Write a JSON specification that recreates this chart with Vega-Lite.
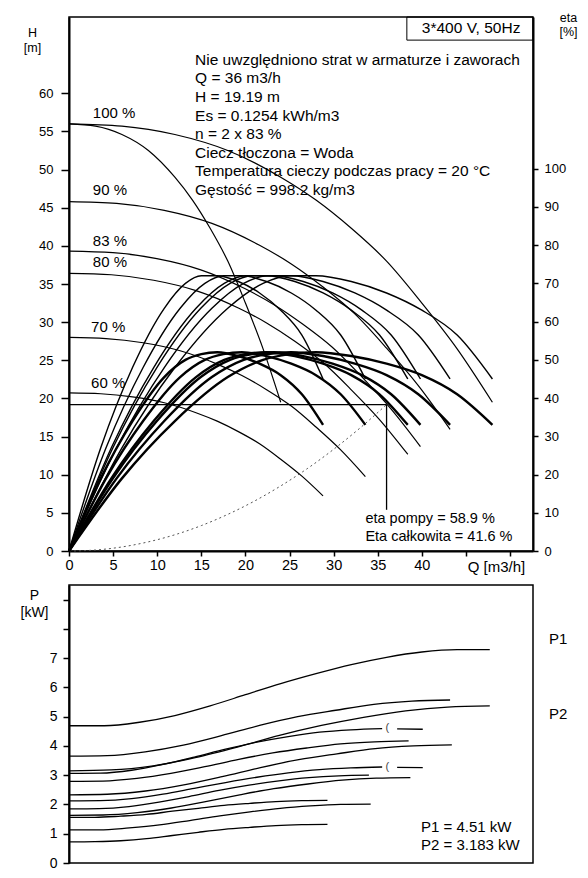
{
"$schema": "https://vega.github.io/schema/vega-lite/v6.json",
"padding": {"left": 19, "top": 10, "right": 2, "bottom": 2},
"spacing": 8,
"config": {
  "font": "Liberation Sans",
  "view": {"stroke": "#000", "strokeWidth": 1.5},
  "axis": {"grid": false, "domainColor": "#000", "domainWidth": 2, "tickColor": "#000", "tickWidth": 1.5, "labelColor": "#000", "titleColor": "#000", "labelFont": "Liberation Sans", "titleFont": "Liberation Sans", "titleFontWeight": "normal"},
  "text": {"font": "Liberation Sans", "color": "#000"}
},
"datasets": {
"hq": [
{"c":"a100","q":0,"h":56},{"c":"a100","q":6,"h":55.7},{"c":"a100","q":12,"h":54.6},{"c":"a100","q":18,"h":52.5},{"c":"a100","q":24,"h":49},{"c":"a100","q":28,"h":46},{"c":"a100","q":32,"h":42.3},{"c":"a100","q":36,"h":38},{"c":"a100","q":40,"h":32.5},{"c":"a100","q":44,"h":26.5},{"c":"a100","q":48,"h":19.5},
{"c":"a90","q":0,"h":45.81},{"c":"a90","q":5.4,"h":45.56},{"c":"a90","q":10.8,"h":44.66},{"c":"a90","q":16.2,"h":42.95},{"c":"a90","q":21.6,"h":40.08},{"c":"a90","q":25.2,"h":37.63},{"c":"a90","q":28.8,"h":34.6},{"c":"a90","q":32.4,"h":31.08},{"c":"a90","q":36,"h":26.59},{"c":"a90","q":39.6,"h":21.68},{"c":"a90","q":43.2,"h":15.95},
{"c":"a83","q":0,"h":39.31},{"c":"a83","q":4.98,"h":39.1},{"c":"a83","q":9.96,"h":38.33},{"c":"a83","q":14.94,"h":36.86},{"c":"a83","q":19.92,"h":34.4},{"c":"a83","q":23.24,"h":32.29},{"c":"a83","q":26.56,"h":29.69},{"c":"a83","q":29.88,"h":26.68},{"c":"a83","q":33.2,"h":22.82},{"c":"a83","q":36.52,"h":18.6},{"c":"a83","q":39.84,"h":13.69},
{"c":"a80","q":0,"h":36.4},{"c":"a80","q":4.8,"h":36.21},{"c":"a80","q":9.6,"h":35.49},{"c":"a80","q":14.4,"h":34.13},{"c":"a80","q":19.2,"h":31.85},{"c":"a80","q":22.4,"h":29.9},{"c":"a80","q":25.6,"h":27.5},{"c":"a80","q":28.8,"h":24.7},{"c":"a80","q":32,"h":21.13},{"c":"a80","q":35.2,"h":17.23},{"c":"a80","q":38.4,"h":12.68},
{"c":"a70","q":0,"h":28},{"c":"a70","q":4.2,"h":27.85},{"c":"a70","q":8.4,"h":27.3},{"c":"a70","q":12.6,"h":26.25},{"c":"a70","q":16.8,"h":24.5},{"c":"a70","q":19.6,"h":23},{"c":"a70","q":22.4,"h":21.15},{"c":"a70","q":25.2,"h":19},{"c":"a70","q":28,"h":16.25},{"c":"a70","q":30.8,"h":13.25},{"c":"a70","q":33.6,"h":9.75},
{"c":"a60","q":0,"h":20.72},{"c":"a60","q":3.6,"h":20.61},{"c":"a60","q":7.2,"h":20.2},{"c":"a60","q":10.8,"h":19.43},{"c":"a60","q":14.4,"h":18.13},{"c":"a60","q":16.8,"h":17.02},{"c":"a60","q":19.2,"h":15.65},{"c":"a60","q":21.6,"h":14.06},{"c":"a60","q":24,"h":12.03},{"c":"a60","q":26.4,"h":9.81},{"c":"a60","q":28.8,"h":7.22},
{"c":"s100","q":0,"h":56},{"c":"s100","q":3,"h":55.7},{"c":"s100","q":6,"h":54.6},{"c":"s100","q":9,"h":52.5},{"c":"s100","q":12,"h":49},{"c":"s100","q":14,"h":46},{"c":"s100","q":16,"h":42.3},{"c":"s100","q":18,"h":38},{"c":"s100","q":20,"h":32.5},{"c":"s100","q":22,"h":26.5},{"c":"s100","q":24,"h":19.5}
],
"sys": [
{"q":0,"h":0},{"q":3,"h":0.13},{"q":6,"h":0.53},{"q":9,"h":1.2},{"q":12,"h":2.13},{"q":15,"h":3.33},{"q":18,"h":4.8},{"q":21,"h":6.53},{"q":24,"h":8.53},{"q":27,"h":10.79},{"q":30,"h":13.33},{"q":33,"h":16.13},{"q":36,"h":19.19}
],
"eta": [
{"c":"p100","g":"p","q":0,"e":0},{"c":"p100","g":"p","q":6,"e":27},{"c":"p100","g":"p","q":12,"e":48},{"c":"p100","g":"p","q":18,"e":63.5},{"c":"p100","g":"p","q":22,"e":70},{"c":"p100","g":"p","q":25,"e":72},{"c":"p100","g":"p","q":28,"e":72},{"c":"p100","g":"p","q":32,"e":70.5},{"c":"p100","g":"p","q":36,"e":67.5},{"c":"p100","g":"p","q":40,"e":63},{"c":"p100","g":"p","q":44,"e":56.5},{"c":"p100","g":"p","q":48,"e":45},
{"c":"p90","g":"p","q":0,"e":0},{"c":"p90","g":"p","q":5.4,"e":27},{"c":"p90","g":"p","q":10.8,"e":48},{"c":"p90","g":"p","q":16.2,"e":63.5},{"c":"p90","g":"p","q":19.8,"e":70},{"c":"p90","g":"p","q":22.5,"e":72},{"c":"p90","g":"p","q":25.2,"e":72},{"c":"p90","g":"p","q":28.8,"e":70.5},{"c":"p90","g":"p","q":32.4,"e":67.5},{"c":"p90","g":"p","q":36,"e":63},{"c":"p90","g":"p","q":39.6,"e":56.5},{"c":"p90","g":"p","q":43.2,"e":45},
{"c":"p83","g":"p","q":0,"e":0},{"c":"p83","g":"p","q":4.98,"e":27},{"c":"p83","g":"p","q":9.96,"e":48},{"c":"p83","g":"p","q":14.94,"e":63.5},{"c":"p83","g":"p","q":18.26,"e":70},{"c":"p83","g":"p","q":20.75,"e":72},{"c":"p83","g":"p","q":23.24,"e":72},{"c":"p83","g":"p","q":26.56,"e":70.5},{"c":"p83","g":"p","q":29.88,"e":67.5},{"c":"p83","g":"p","q":33.2,"e":63},{"c":"p83","g":"p","q":36.52,"e":56.5},{"c":"p83","g":"p","q":39.84,"e":45},
{"c":"p80","g":"p","q":0,"e":0},{"c":"p80","g":"p","q":4.8,"e":27},{"c":"p80","g":"p","q":9.6,"e":48},{"c":"p80","g":"p","q":14.4,"e":63.5},{"c":"p80","g":"p","q":17.6,"e":70},{"c":"p80","g":"p","q":20,"e":72},{"c":"p80","g":"p","q":22.4,"e":72},{"c":"p80","g":"p","q":25.6,"e":70.5},{"c":"p80","g":"p","q":28.8,"e":67.5},{"c":"p80","g":"p","q":32,"e":63},{"c":"p80","g":"p","q":35.2,"e":56.5},{"c":"p80","g":"p","q":38.4,"e":45},
{"c":"p70","g":"p","q":0,"e":0},{"c":"p70","g":"p","q":4.2,"e":27},{"c":"p70","g":"p","q":8.4,"e":48},{"c":"p70","g":"p","q":12.6,"e":63.5},{"c":"p70","g":"p","q":15.4,"e":70},{"c":"p70","g":"p","q":17.5,"e":72},{"c":"p70","g":"p","q":19.6,"e":72},{"c":"p70","g":"p","q":22.4,"e":70.5},{"c":"p70","g":"p","q":25.2,"e":67.5},{"c":"p70","g":"p","q":28,"e":63},{"c":"p70","g":"p","q":30.8,"e":56.5},{"c":"p70","g":"p","q":33.6,"e":45},
{"c":"p60","g":"p","q":0,"e":0},{"c":"p60","g":"p","q":3.6,"e":27},{"c":"p60","g":"p","q":7.2,"e":48},{"c":"p60","g":"p","q":10.8,"e":63.5},{"c":"p60","g":"p","q":13.2,"e":70},{"c":"p60","g":"p","q":15,"e":72},{"c":"p60","g":"p","q":16.8,"e":72},{"c":"p60","g":"p","q":19.2,"e":70.5},{"c":"p60","g":"p","q":21.6,"e":67.5},{"c":"p60","g":"p","q":24,"e":63},{"c":"p60","g":"p","q":26.4,"e":56.5},{"c":"p60","g":"p","q":28.8,"e":45},
{"c":"t100","g":"t","q":0,"e":0},{"c":"t100","g":"t","q":6,"e":19},{"c":"t100","g":"t","q":12,"e":34},{"c":"t100","g":"t","q":18,"e":45.5},{"c":"t100","g":"t","q":22,"e":50},{"c":"t100","g":"t","q":25,"e":51.5},{"c":"t100","g":"t","q":28,"e":52},{"c":"t100","g":"t","q":32,"e":51},{"c":"t100","g":"t","q":36,"e":49},{"c":"t100","g":"t","q":40,"e":46},{"c":"t100","g":"t","q":44,"e":41},{"c":"t100","g":"t","q":48,"e":33},
{"c":"t90","g":"t","q":0,"e":0},{"c":"t90","g":"t","q":5.4,"e":19},{"c":"t90","g":"t","q":10.8,"e":34},{"c":"t90","g":"t","q":16.2,"e":45.5},{"c":"t90","g":"t","q":19.8,"e":50},{"c":"t90","g":"t","q":22.5,"e":51.5},{"c":"t90","g":"t","q":25.2,"e":52},{"c":"t90","g":"t","q":28.8,"e":51},{"c":"t90","g":"t","q":32.4,"e":49},{"c":"t90","g":"t","q":36,"e":46},{"c":"t90","g":"t","q":39.6,"e":41},{"c":"t90","g":"t","q":43.2,"e":33},
{"c":"t83","g":"t","q":0,"e":0},{"c":"t83","g":"t","q":4.98,"e":19},{"c":"t83","g":"t","q":9.96,"e":34},{"c":"t83","g":"t","q":14.94,"e":45.5},{"c":"t83","g":"t","q":18.26,"e":50},{"c":"t83","g":"t","q":20.75,"e":51.5},{"c":"t83","g":"t","q":23.24,"e":52},{"c":"t83","g":"t","q":26.56,"e":51},{"c":"t83","g":"t","q":29.88,"e":49},{"c":"t83","g":"t","q":33.2,"e":46},{"c":"t83","g":"t","q":36.52,"e":41},{"c":"t83","g":"t","q":39.84,"e":33},
{"c":"t80","g":"t","q":0,"e":0},{"c":"t80","g":"t","q":4.8,"e":19},{"c":"t80","g":"t","q":9.6,"e":34},{"c":"t80","g":"t","q":14.4,"e":45.5},{"c":"t80","g":"t","q":17.6,"e":50},{"c":"t80","g":"t","q":20,"e":51.5},{"c":"t80","g":"t","q":22.4,"e":52},{"c":"t80","g":"t","q":25.6,"e":51},{"c":"t80","g":"t","q":28.8,"e":49},{"c":"t80","g":"t","q":32,"e":46},{"c":"t80","g":"t","q":35.2,"e":41},{"c":"t80","g":"t","q":38.4,"e":33},
{"c":"t70","g":"t","q":0,"e":0},{"c":"t70","g":"t","q":4.2,"e":19},{"c":"t70","g":"t","q":8.4,"e":34},{"c":"t70","g":"t","q":12.6,"e":45.5},{"c":"t70","g":"t","q":15.4,"e":50},{"c":"t70","g":"t","q":17.5,"e":51.5},{"c":"t70","g":"t","q":19.6,"e":52},{"c":"t70","g":"t","q":22.4,"e":51},{"c":"t70","g":"t","q":25.2,"e":49},{"c":"t70","g":"t","q":28,"e":46},{"c":"t70","g":"t","q":30.8,"e":41},{"c":"t70","g":"t","q":33.6,"e":33},
{"c":"t60","g":"t","q":0,"e":0},{"c":"t60","g":"t","q":3.6,"e":19},{"c":"t60","g":"t","q":7.2,"e":34},{"c":"t60","g":"t","q":10.8,"e":45.5},{"c":"t60","g":"t","q":13.2,"e":50},{"c":"t60","g":"t","q":15,"e":51.5},{"c":"t60","g":"t","q":16.8,"e":52},{"c":"t60","g":"t","q":19.2,"e":51},{"c":"t60","g":"t","q":21.6,"e":49},{"c":"t60","g":"t","q":24,"e":46},{"c":"t60","g":"t","q":26.4,"e":41},{"c":"t60","g":"t","q":28.8,"e":33}
],
"pw": [
{"c":"c1","q":0,"p":4.69},{"c":"c1","q":4,"p":4.69},{"c":"c1","q":8,"p":4.81},{"c":"c1","q":12,"p":5.04},{"c":"c1","q":16,"p":5.37},{"c":"c1","q":20,"p":5.75},{"c":"c1","q":24,"p":6.13},{"c":"c1","q":28,"p":6.47},{"c":"c1","q":32,"p":6.78},{"c":"c1","q":36,"p":7.03},{"c":"c1","q":40,"p":7.21},{"c":"c1","q":44,"p":7.29},{"c":"c1","q":47.7,"p":7.29},
{"c":"c2","q":0,"p":3.65},{"c":"c2","q":4.32,"p":3.67},{"c":"c2","q":8.64,"p":3.8},{"c":"c2","q":12.96,"p":4.03},{"c":"c2","q":17.28,"p":4.35},{"c":"c2","q":21.6,"p":4.7},{"c":"c2","q":25.92,"p":5.0},{"c":"c2","q":30.24,"p":5.22},{"c":"c2","q":34.56,"p":5.42},{"c":"c2","q":38.88,"p":5.53},{"c":"c2","q":43.2,"p":5.57},
{"c":"c3","q":0,"p":3.15},{"c":"c3","q":4.77,"p":3.18},{"c":"c3","q":9.54,"p":3.32},{"c":"c3","q":14.31,"p":3.6},{"c":"c3","q":19.08,"p":3.96},{"c":"c3","q":23.85,"p":4.36},{"c":"c3","q":28.62,"p":4.7},{"c":"c3","q":33.39,"p":4.98},{"c":"c3","q":38.16,"p":5.2},{"c":"c3","q":42.93,"p":5.33},{"c":"c3","q":47.7,"p":5.37},
{"c":"c4","q":0,"p":3.06},{"c":"c4","q":3.55,"p":3.07},{"c":"c4","q":7.1,"p":3.17},{"c":"c4","q":10.65,"p":3.37},{"c":"c4","q":14.2,"p":3.62},{"c":"c4","q":17.75,"p":3.89},{"c":"c4","q":21.3,"p":4.13},{"c":"c4","q":24.85,"p":4.32},{"c":"c4","q":28.4,"p":4.47},{"c":"c4","q":31.95,"p":4.55},{"c":"c4","q":35.5,"p":4.59},
{"c":"c4t","q":37.2,"p":4.58},{"c":"c4t","q":40.1,"p":4.57},
{"c":"c5","q":0,"p":2.79},{"c":"c5","q":3.85,"p":2.8},{"c":"c5","q":7.7,"p":2.89},{"c":"c5","q":11.55,"p":3.06},{"c":"c5","q":15.4,"p":3.29},{"c":"c5","q":19.25,"p":3.54},{"c":"c5","q":23.1,"p":3.76},{"c":"c5","q":26.95,"p":3.93},{"c":"c5","q":30.8,"p":4.07},{"c":"c5","q":34.65,"p":4.14},{"c":"c5","q":38.5,"p":4.17},
{"c":"c6","q":0,"p":2.33},{"c":"c6","q":4.34,"p":2.35},{"c":"c6","q":8.68,"p":2.46},{"c":"c6","q":13.02,"p":2.67},{"c":"c6","q":17.36,"p":2.95},{"c":"c6","q":21.7,"p":3.26},{"c":"c6","q":26.04,"p":3.53},{"c":"c6","q":30.38,"p":3.73},{"c":"c6","q":34.72,"p":3.91},{"c":"c6","q":39.06,"p":4.0},{"c":"c6","q":43.4,"p":4.04},
{"c":"c7","q":0,"p":2.12},{"c":"c7","q":3.55,"p":2.13},{"c":"c7","q":7.1,"p":2.2},{"c":"c7","q":10.65,"p":2.35},{"c":"c7","q":14.2,"p":2.55},{"c":"c7","q":17.75,"p":2.75},{"c":"c7","q":21.3,"p":2.93},{"c":"c7","q":24.85,"p":3.08},{"c":"c7","q":28.4,"p":3.19},{"c":"c7","q":31.95,"p":3.25},{"c":"c7","q":35.5,"p":3.28},
{"c":"c7t","q":37.2,"p":3.27},{"c":"c7t","q":40.1,"p":3.26},
{"c":"c8","q":0,"p":1.85},{"c":"c8","q":3.4,"p":1.86},{"c":"c8","q":6.8,"p":1.93},{"c":"c8","q":10.2,"p":2.08},{"c":"c8","q":13.6,"p":2.27},{"c":"c8","q":17,"p":2.48},{"c":"c8","q":20.4,"p":2.66},{"c":"c8","q":23.8,"p":2.81},{"c":"c8","q":27.2,"p":2.92},{"c":"c8","q":30.6,"p":2.98},{"c":"c8","q":34,"p":3.0},
{"c":"c9","q":0,"p":1.63},{"c":"c9","q":3.87,"p":1.64},{"c":"c9","q":7.74,"p":1.72},{"c":"c9","q":11.61,"p":1.88},{"c":"c9","q":15.48,"p":2.1},{"c":"c9","q":19.35,"p":2.33},{"c":"c9","q":23.22,"p":2.54},{"c":"c9","q":27.09,"p":2.7},{"c":"c9","q":30.96,"p":2.83},{"c":"c9","q":34.83,"p":2.9},{"c":"c9","q":38.7,"p":2.92},
{"c":"c10","q":0,"p":1.56},{"c":"c10","q":2.93,"p":1.56},{"c":"c10","q":5.86,"p":1.6},{"c":"c10","q":8.79,"p":1.66},{"c":"c10","q":11.72,"p":1.77},{"c":"c10","q":14.65,"p":1.87},{"c":"c10","q":17.58,"p":1.97},{"c":"c10","q":20.51,"p":2.04},{"c":"c10","q":23.44,"p":2.1},{"c":"c10","q":26.37,"p":2.13},{"c":"c10","q":29.3,"p":2.14},
{"c":"c11","q":0,"p":1.13},{"c":"c11","q":3.42,"p":1.13},{"c":"c11","q":6.84,"p":1.2},{"c":"c11","q":10.26,"p":1.3},{"c":"c11","q":13.68,"p":1.45},{"c":"c11","q":17.1,"p":1.61},{"c":"c11","q":20.52,"p":1.75},{"c":"c11","q":23.94,"p":1.87},{"c":"c11","q":27.36,"p":1.95},{"c":"c11","q":30.78,"p":2.0},{"c":"c11","q":34.2,"p":2.01},
{"c":"c12","q":0,"p":0.72},{"c":"c12","q":2.93,"p":0.73},{"c":"c12","q":5.86,"p":0.76},{"c":"c12","q":8.79,"p":0.83},{"c":"c12","q":11.72,"p":0.94},{"c":"c12","q":14.65,"p":1.05},{"c":"c12","q":17.58,"p":1.15},{"c":"c12","q":20.51,"p":1.22},{"c":"c12","q":23.44,"p":1.28},{"c":"c12","q":26.37,"p":1.31},{"c":"c12","q":29.3,"p":1.32}
]
},
"vconcat": [
{
  "width": 464, "height": 534,
  "encoding": {
    "x": {"field": "q", "type": "quantitative", "scale": {"domain": [0, 52.6], "nice": false, "zero": false},
      "axis": {"values": [0,5,10,15,20,25,30,35,40,45,50], "labelExpr": "datum.value <= 40 ? datum.label : ''", "tickSize": 5, "labelPadding": 2, "labelFontSize": 14.5, "labelFlush": false,
        "title": "Q [m3/h]", "titleFontSize": 15, "titleX": 427, "titleY": 15.5, "titleAlign": "center", "titleBaseline": "middle", "titleAnchor": null}}
  },
  "layer": [
    {
      "encoding": {
        "y": {"field": "h", "type": "quantitative", "scale": {"domain": [0, 70], "nice": false},
          "axis": {"values": [0,5,10,15,20,25,30,35,40,45,50,55,60], "tickSize": 8, "labelPadding": 8, "labelFontSize": 13,
            "title": ["H", "[m]"], "titleAngle": 0, "titleX": -37, "titleY": 9, "titleAlign": "center", "titleBaseline": "top", "titleLineHeight": 15, "titleFontSize": 12.5}}
      },
      "layer": [
        {"data": {"name": "hq"}, "mark": {"type": "line", "interpolate": "monotone", "color": "#000", "strokeWidth": 1.2},
         "encoding": {"detail": {"field": "c", "type": "nominal"}}},
        {"data": {"name": "sys"}, "mark": {"type": "line", "interpolate": "monotone", "color": "#555", "strokeWidth": 1, "strokeDash": [2, 3]},
         "encoding": {}},
        {"data": {"values": [{"q": 0, "q2": 36, "h": 19.19, "h2": 19.19}, {"q": 36, "q2": 36, "h": 19.19, "h2": 5.4}]},
         "mark": {"type": "rule", "color": "#000", "strokeWidth": 1.3},
         "encoding": {"x2": {"field": "q2"}, "y2": {"field": "h2"}}},
        {"data": {"values": [{"q": 38.3, "q2": 52.6, "h": 66.97, "h2": 70}]},
         "mark": {"type": "rect", "fill": "#fff", "fillOpacity": 0, "stroke": "#000", "strokeWidth": 1},
         "encoding": {"x2": {"field": "q2"}, "y2": {"field": "h2"}}},
        {"data": {"values": [{"q": 40.0, "h": 68.54, "t": "3*400 V, 50Hz"}]},
         "mark": {"type": "text", "align": "left", "baseline": "middle", "fontSize": 15.5},
         "encoding": {"text": {"field": "t"}}},
        {"data": {"values": [
           {"q": 14.29, "h": 64.39, "t": "Nie uwzględniono strat w armaturze i zaworach"},
           {"q": 14.29, "h": 61.95, "t": "Q = 36 m3/h"},
           {"q": 14.29, "h": 59.52, "t": "H = 19.19 m"},
           {"q": 14.29, "h": 57.08, "t": "Es = 0.1254 kWh/m3"},
           {"q": 14.29, "h": 54.65, "t": "n = 2 x 83 %"},
           {"q": 14.29, "h": 52.21, "t": "Ciecz tłoczona = Woda"},
           {"q": 14.29, "h": 49.77, "t": "Temperatura cieczy podczas pracy = 20 °C"},
           {"q": 14.29, "h": 47.33, "t": "Gęstość = 998.2 kg/m3"}]},
         "mark": {"type": "text", "align": "left", "baseline": "middle", "fontSize": 15.5},
         "encoding": {"text": {"field": "t"}}},
        {"data": {"values": [
           {"q": 2.7, "h": 57.45, "t": "100 %"},
           {"q": 2.7, "h": 47.3, "t": "90 %"},
           {"q": 2.7, "h": 40.7, "t": "83 %"},
           {"q": 2.7, "h": 37.9, "t": "80 %"},
           {"q": 2.5, "h": 29.3, "t": "70 %"},
           {"q": 2.5, "h": 22.0, "t": "60 %"}]},
         "mark": {"type": "text", "align": "left", "baseline": "middle", "fontSize": 15},
         "encoding": {"text": {"field": "t"}}},
        {"data": {"values": [
           {"q": 33.6, "h": 4.17, "t": "eta pompy = 58.9 %"},
           {"q": 33.6, "h": 1.81, "t": "Eta całkowita = 41.6 %"}]},
         "mark": {"type": "text", "align": "left", "baseline": "middle", "fontSize": 14.5},
         "encoding": {"text": {"field": "t"}}}
      ]
    },
    {
      "data": {"name": "eta"},
      "mark": {"type": "line", "interpolate": "monotone", "color": "#000"},
      "encoding": {
        "y": {"field": "e", "type": "quantitative", "scale": {"domain": [0, 139.7], "nice": false},
          "axis": {"orient": "right", "values": [0,10,20,30,40,50,60,70,80,90,100], "tickSize": 5, "labelPadding": 6, "labelFontSize": 13,
            "title": ["eta", "[%]"], "titleAngle": 0, "titleX": 35, "titleY": -6, "titleAlign": "center", "titleBaseline": "top", "titleLineHeight": 14, "titleFontSize": 12.5}},
        "detail": {"field": "c", "type": "nominal"},
        "strokeWidth": {"field": "g", "type": "nominal", "scale": {"domain": ["p", "t"], "range": [1.4, 2.4]}, "legend": null}
      }
    }
  ],
  "resolve": {"scale": {"y": "independent"}}
},
{
  "width": 464, "height": 278,
  "encoding": {
    "x": {"field": "q", "type": "quantitative", "scale": {"domain": [0, 52.6], "nice": false, "zero": false}, "axis": null},
    "y": {"field": "p", "type": "quantitative", "scale": {"domain": [0, 9.5], "nice": false},
      "axis": {"values": [0,1,2,3,4,5,6,7,8,9], "labelExpr": "datum.value <= 7 ? datum.label : ''", "tickSize": 6, "labelPadding": 6, "labelFontSize": 14,
        "title": ["P", "[kW]"], "titleAngle": 0, "titleX": -35, "titleY": 3, "titleAlign": "center", "titleBaseline": "top", "titleLineHeight": 17, "titleFontSize": 14}}
  },
  "layer": [
    {"data": {"name": "pw"}, "mark": {"type": "line", "interpolate": "monotone", "color": "#000", "strokeWidth": 1.3},
     "encoding": {"detail": {"field": "c", "type": "nominal"}}},
    {"data": {"values": [{"q": 36.1, "p": 4.6, "t": "("}, {"q": 36.1, "p": 3.29, "t": "("}]},
     "mark": {"type": "text", "align": "center", "baseline": "middle", "fontSize": 11, "color": "#444"},
     "encoding": {"text": {"field": "t"}}},
    {"data": {"values": [{"q": 39.9, "p": 1.23, "t": "P1 = 4.51 kW"}, {"q": 39.9, "p": 0.62, "t": "P2 = 3.183 kW"}]},
     "mark": {"type": "text", "align": "left", "baseline": "middle", "fontSize": 15},
     "encoding": {"text": {"field": "t"}}},
    {"data": {"values": [{"q": 54.4, "p": 7.67, "t": "P1"}, {"q": 54.4, "p": 5.08, "t": "P2"}]},
     "mark": {"type": "text", "align": "left", "baseline": "middle", "fontSize": 15},
     "encoding": {"text": {"field": "t"}}}
  ]
}
]
}
